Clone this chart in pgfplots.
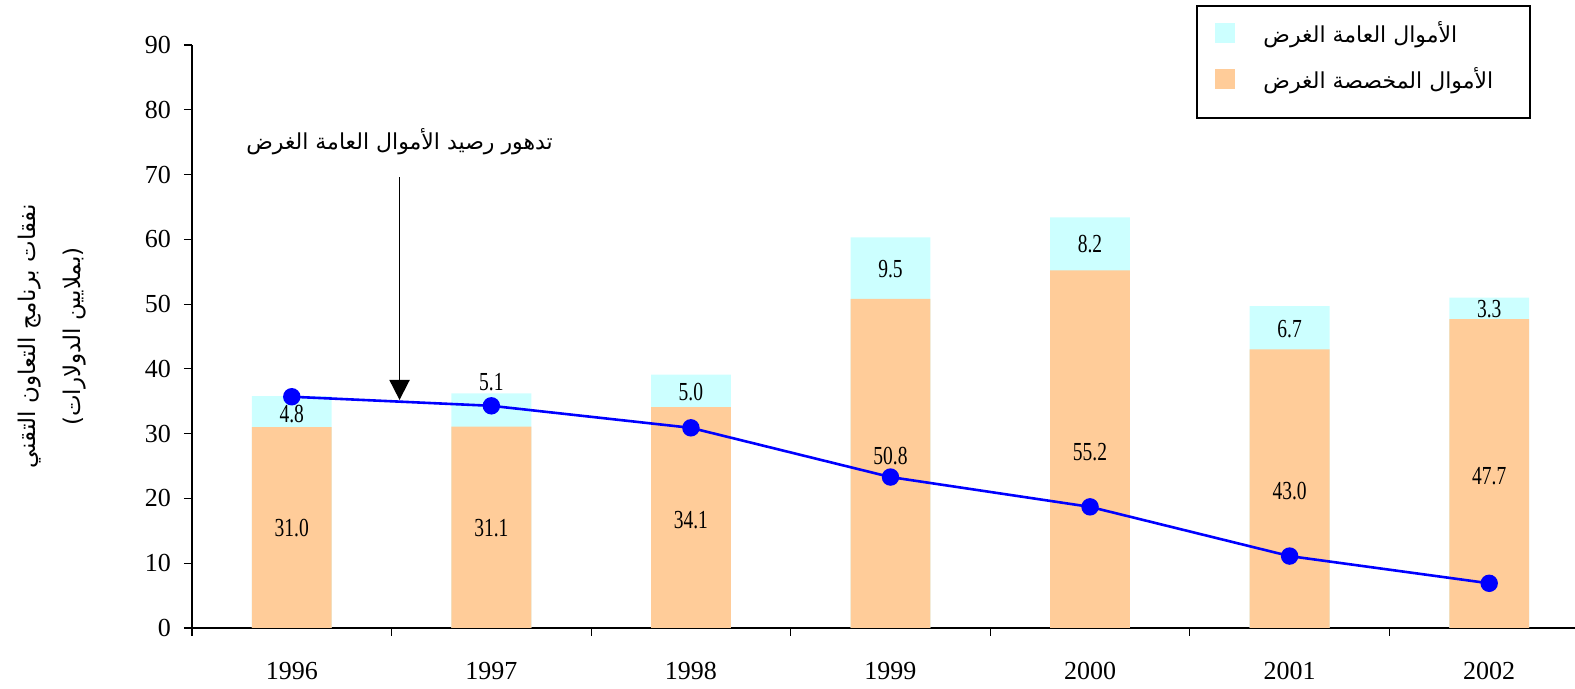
\documentclass[border=0pt]{standalone}
\usepackage{pgfplots}
\pgfplotsset{compat=1.18}
\usepackage{pgfplotstable}
\usetikzlibrary{arrows.meta}
\usepackage{fontspec}
\setmainfont{Liberation Serif}
\newfontfamily\labelfont[FakeStretch=0.75]{Liberation Serif}
\newfontfamily\arabicfont[Script=Arabic]{DejaVu Sans}
\TeXXeTstate=1
\definecolor{earm}{RGB}{255,204,153}
\definecolor{gen}{RGB}{204,255,255}
\definecolor{lineblue}{RGB}{0,0,255}

\pgfplotstableread{
x earm gen line ely gly
0 31.0 4.8 35.7 15.4 33.0
1 31.1 5.1 34.3 15.4 37.9
2 34.1 5.0 30.9 16.7 36.4
3 50.8 9.5 23.3 26.5 55.4
4 55.2 8.2 18.7 27.1 59.2
5 43.0 6.7 11.1 21.1 46.2
6 47.7 3.3 6.9 23.4 49.3
}\data

\begin{document}
\begin{tikzpicture}
\begin{axis}[
  name=ax,
  scale only axis, width=691.5pt, height=291.5pt,
  xmin=-0.5, xmax=6.43, ymin=0, ymax=90,
  clip=false,
  axis x line=bottom, axis y line=left,
  x axis line style={-}, y axis line style={-},
  axis line style={line width=0.6pt, black},
  ytick={0,10,...,90},
  /pgf/number format/assume math mode=true,
  yticklabel style={font=\fontsize{13}{15}\selectfont, xshift=-3pt},
  xtick={0,...,6},
  xticklabels={1996,1997,1998,1999,2000,2001,2002},
  xticklabel style={font=\fontsize{13}{15}\selectfont, yshift=-9.7pt},
  minor xtick={-0.5,0.5,...,5.5},
  tick align=outside,
  major x tick style={draw=none},
  major tick length=4pt, minor tick length=4pt,
  tick style={line width=0.6pt, black},
  every axis y label/.style={at={(axis description cs:-0.101,0.5)}, rotate=90, anchor=center, align=center, font=\fontsize{11.5}{22.5}\arabicfont},
  ylabel={\beginR نفقات برنامج التعاون التقني\endR\\\beginR (بملايين الدولارات)\endR},
  legend style={name=leg, at={(0.726,1.0686)}, anchor=north west, draw=none,
    font=\fontsize{11}{13}\arabicfont, inner xsep=9.5pt, inner ysep=6pt, row sep=7pt},
  legend cell align=left,
]
\addplot[ybar, bar width=0.4, bar shift=0pt, fill=gen, draw=none,
  legend image code/.code={\fill[gen] (0pt,-5pt) rectangle (10pt,5pt);}]
  table[x=x, y expr=\thisrow{earm}+\thisrow{gen}] {\data};
\addlegendentry{\makebox[134pt][l]{\hspace*{12pt}\beginR الأموال العامة الغرض\endR}}
\addplot[ybar, bar width=0.4, bar shift=0pt, fill=earm, draw=none,
  legend image code/.code={\fill[earm] (0pt,-5pt) rectangle (10pt,5pt);}]
  table[x=x, y=earm] {\data};
\addlegendentry{\makebox[134pt][l]{\hspace*{12pt}\beginR الأموال المخصصة الغرض\endR}}
\addplot[lineblue, line width=1.3pt, mark=*, mark size=3.7pt, mark options={fill=lineblue, draw=lineblue}, forget plot]
  table[x=x, y=line] {\data};
\addplot[only marks, mark=none, forget plot, nodes near coords, point meta=explicit symbolic,
  nodes near coords align={center},
  nodes near coords style={font=\fontsize{13}{15}\labelfont, text=black}]
  table[x=x, y=ely, meta=earm] {\data};
\addplot[only marks, mark=none, forget plot, nodes near coords, point meta=explicit symbolic,
  nodes near coords align={center},
  nodes near coords style={font=\fontsize{13}{15}\labelfont, text=black}]
  table[x=x, y=gly, meta=gen] {\data};
\draw[line width=0.9pt, -{Triangle[width=10pt, length=10pt]}] (axis cs:0.54,69.6) -- (axis cs:0.54,35.2);
\node[font=\fontsize{11}{13}\arabicfont] at (axis cs:0.54,75.0) {\beginR تدهور رصيد الأموال العامة الغرض\endR};
\end{axis}
\draw[line width=1pt] ([shift={(0.5pt,-0.5pt)}]leg.north west) rectangle ([shift={(-0.5pt,-5pt)}]leg.south east);
\pgfresetboundingbox
\path[use as bounding box] ([shift={(-96pt,-30.5pt)}]ax.south west) rectangle ++(787.5pt,344.5pt);
\end{tikzpicture}
\end{document}
